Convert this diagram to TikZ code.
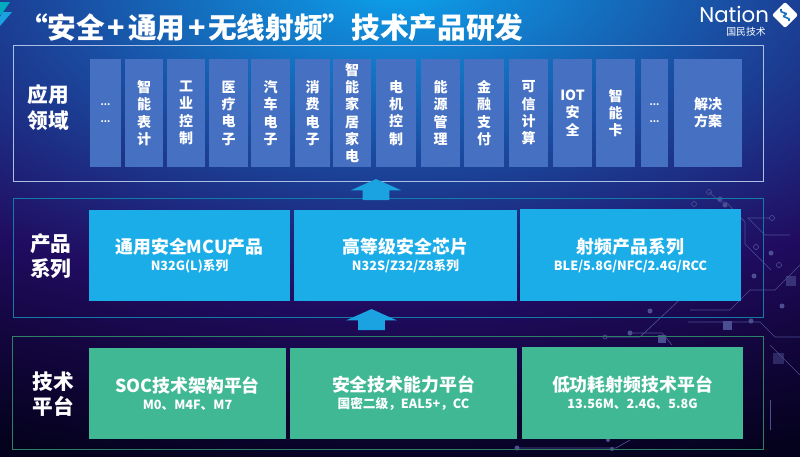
\documentclass[tikz,border=0pt]{standalone}
\usepackage{fontspec}
\setmainfont{Noto Sans CJK SC}
\newfontfamily\logofont{Poppins}
\usetikzlibrary{shapes.arrows}
\definecolor{glowa}{HTML}{0BA8F0}
\definecolor{glowb}{HTML}{0F90DD}
\definecolor{glowc}{HTML}{1470C0}
\definecolor{glowd}{HTML}{1A4A9F}
\definecolor{glowe}{HTML}{1D2A80}
\definecolor{glowf}{HTML}{200C60}
\definecolor{glowg}{HTML}{140640}
\definecolor{glowh}{HTML}{05021E}
\definecolor{cellblue}{HTML}{4670C2}
\definecolor{prodblue}{HTML}{1AADE8}
\definecolor{platgreen}{HTML}{3FB893}
\definecolor{arrowblue}{HTML}{1AA3E0}
\definecolor{traceblue}{HTML}{4C4E92}
\pgfdeclareradialshading{bgglow}{\pgfpoint{0bp}{0bp}}{%
  color(0bp)=(glowa);
  color(1.5bp)=(glowb);
  color(4bp)=(glowc);
  color(7bp)=(glowd);
  color(10bp)=(glowe);
  color(13bp)=(glowf);
  color(16bp)=(glowg);
  color(20bp)=(glowh);
  color(50bp)=(glowh)}
\tikzset{
  txt/.style={text=white,font=\bfseries},
  band/.style={draw=#1,line width=0.75pt,fill=none},
  sidelabel/.style={txt,align=center,inner sep=0pt,
    font=\fontsize{15.5}{19}\bfseries\selectfont},
  cellw/.style={minimum width=#1*0.75pt},
  cell/.style={fill=cellblue,txt,align=center,inner sep=0pt,minimum height=81pt,
    font=\fontsize{10.5}{13}\bfseries\selectfont},
  bigbox/.style={fill=#1,txt,align=center,inner sep=0pt,minimum height=68.5pt},
  upstep/.style={single arrow,fill=arrowblue,inner sep=0pt,rotate=90,
    single arrow tip angle=132,single arrow head extend=9pt,
    text height=19.5pt,text depth=0pt,minimum height=15.75pt},
  trace/.style={draw=traceblue,line width=0.5pt},
  pad/.style={fill=traceblue,draw=none}
}
\newcommand{\boxtext}[2]{{\fontsize{13.4}{13.5}\bfseries\selectfont #1}\\[0.8pt]{\fontsize{9.5}{10}\bfseries\selectfont #2}}
\newcommand{\celldots}{{\fontsize{7}{12}\selectfont ...}\\{\fontsize{7}{12}\selectfont ...}}
\newcommand{\tplus}{\hspace{2pt}+\hspace{2pt}}
\begin{document}
\begin{tikzpicture}[x=0.75pt,y=-0.75pt]
    \useasboundingbox (0,0) rectangle (800,457);
    \begin{scope}
      \clip (0,0) rectangle (800,457);
      \shade[shading=bgglow] (-850,-645) rectangle (1650,605);

      % circuit traces
      \draw[trace] (709,192) -- (720,202) -- (726,202) -- (745,222) -- (745,244) -- (771,270);
      \draw[trace] (770,218) -- (748,218) -- (765,235) -- (790,235);
      \draw[trace] (690,310) -- (730,310) -- (750,290) -- (775,290) -- (800,265);
      \draw[trace] (688,322) -- (760,322) -- (775,337) -- (800,337);
      \draw[trace] (606,337) -- (640,337) -- (690,290);
      \draw[trace] (630,333) -- (662,333) -- (672,345);
      \draw[trace] (770,345) -- (800,375);
      \draw[trace] (517,448) -- (616,448) -- (630,440);
      \draw[trace] (770,400) -- (770,430);
      \draw[trace] (709,192) circle (2.5);
      \draw[trace] (694,204) circle (2.5);
      \draw[trace] (772,218) circle (2.5);
      \draw[trace] (756,247) circle (2.5);
      \draw[trace] (779,265) circle (2.5);
      \draw[trace] (605,337) circle (2);
      \fill[pad] (720,199) circle (2.5);
      \fill[pad] (725,205) circle (2.5);
      \fill[pad] (771,253) circle (2.5);
      \fill[pad] (754,276) circle (2.5);
      \fill[pad] (782,306) circle (2.5);
      \fill[pad] (650,311) circle (2.5);
      \fill[pad] (630,333) circle (2.5);
      \fill[pad] (751,321) circle (2.5);
      \fill[pad] (517,448) circle (2.5);
      \fill[pad] (608,440) circle (2);
      \fill[pad] (612,449) circle (2);
      \fill[pad] (723,321) rectangle (732,330);
      \fill[pad] (658,335) rectangle (666,343);
      \fill[pad,opacity=0.6] (786,276) rectangle (796,286);
      \fill[pad,opacity=0.5] (773,353) rectangle (784,364);
    \end{scope}

    % top logo marks
    \fill[cyan!70!green] (0,2) -- (10,2) -- (1,15) -- (0,15) -- cycle;
    \fill[arrowblue] (3,12) -- (12,12) -- (0,26) -- (0,17) -- cycle;

    \node[txt,inner sep=0pt,anchor=west,font=\fontsize{21.5}{24}\bfseries\selectfont] (title) at (19,28)
      {“安全\tplus 通用\tplus 无线射频”技术产品研发};

    % company logo
    \node[inner sep=0pt,anchor=base west,text=white,font=\logofont\fontsize{16}{18}\selectfont] (nation) at (699,22.5) {Nation};
    \node[inner sep=0pt,anchor=east,text=white,font=\fontsize{7.4}{8}\selectfont] (cname) at (766,31.5) {国民技术};
    \fill[white,rounded corners=1.5] (785,2) -- (798,15) -- (785,28) -- (772,15) -- cycle;
    \draw[glowc,line width=1.2pt] (781,9) .. controls (778,14) and (790,12) .. (785,15) .. controls (780,18) and (792,17) .. (789,21);

    % panels
    \draw[band=white!55!cellblue] (13,45) rectangle (763,181);
    \draw[band=arrowblue!75!black] (13,198) rectangle (763,317);
    \draw[band=platgreen!70!black] (12,336) rectangle (763,449);

    \node[sidelabel] (applabel) at (48,107.5) {应用\\领域};
    \node[sidelabel] (prodlabel) at (51,256) {产品\\系列};
    \node[sidelabel] (techlabel) at (53,394) {技术\\平台};

    % application cells
    \node[cell,cellw=31] (c1) at (105.5,113) {\celldots};
    \node[cell,cellw=38] (c2) at (144,113) {智\\能\\表\\计};
    \node[cell,cellw=38] (c3) at (186,113) {工\\业\\控\\制};
    \node[cell,cellw=39] (c4) at (228.5,113) {医\\疗\\电\\子};
    \node[cell,cellw=39] (c5) at (270.5,113) {汽\\车\\电\\子};
    \node[cell,cellw=35] (c6) at (312.5,113) {消\\费\\电\\子};
    \node[cell,cellw=38] (c7) at (352,113) {智\\能\\家\\居\\家\\电};
    \node[cell,cellw=40] (c8) at (396,113) {电\\机\\控\\制};
    \node[cell,cellw=39] (c9) at (440.5,113) {能\\源\\管\\理};
    \node[cell,cellw=40] (c10) at (484,113) {金\\融\\支\\付};
    \node[cell,cellw=39] (c11) at (528.5,113) {可\\信\\计\\算};
    \node[cell,cellw=39] (c12) at (572.5,113) {IOT\\安\\全};
    \node[cell,cellw=39] (c13) at (615.5,113) {智\\能\\卡};
    \node[cell,cellw=27] (c14) at (654.5,113) {\celldots};
    \node[cell,cellw=68] (c15) at (708,113) {解决\\方案};

    % product boxes
    \node[bigbox=prodblue,cellw=201] (p1) at (189.5,255.5) {\boxtext{通用安全MCU产品}{N32G(L)系列}};
    \node[bigbox=prodblue,cellw=223] (p2) at (405.5,255.5) {\boxtext{高等级安全芯片}{N32S/Z32/Z8系列}};
    \node[bigbox=prodblue,cellw=221] (p3) at (630.5,255) {\boxtext{射频产品系列}{BLE/5.8G/NFC/2.4G/RCC}};

    % platform boxes
    \node[bigbox=platgreen,cellw=197] (t1) at (187.5,393.5) {\boxtext{SOC技术架构平台}{M0、M4F、M7}};
    \node[bigbox=platgreen,cellw=227] (t2) at (403.5,393.5) {\boxtext{安全技术能力平台}{国密二级，EAL5+，CC}};
    \node[bigbox=platgreen,cellw=221] (t3) at (632.5,393) {\boxtext{低功耗射频技术平台}{13.56M、2.4G、5.8G}};

    % step arrows
    \node[upstep] (up1) at (376,192.5) {};
    \node[upstep] (up2) at (371.5,322.5) {};
\end{tikzpicture}
\end{document}
